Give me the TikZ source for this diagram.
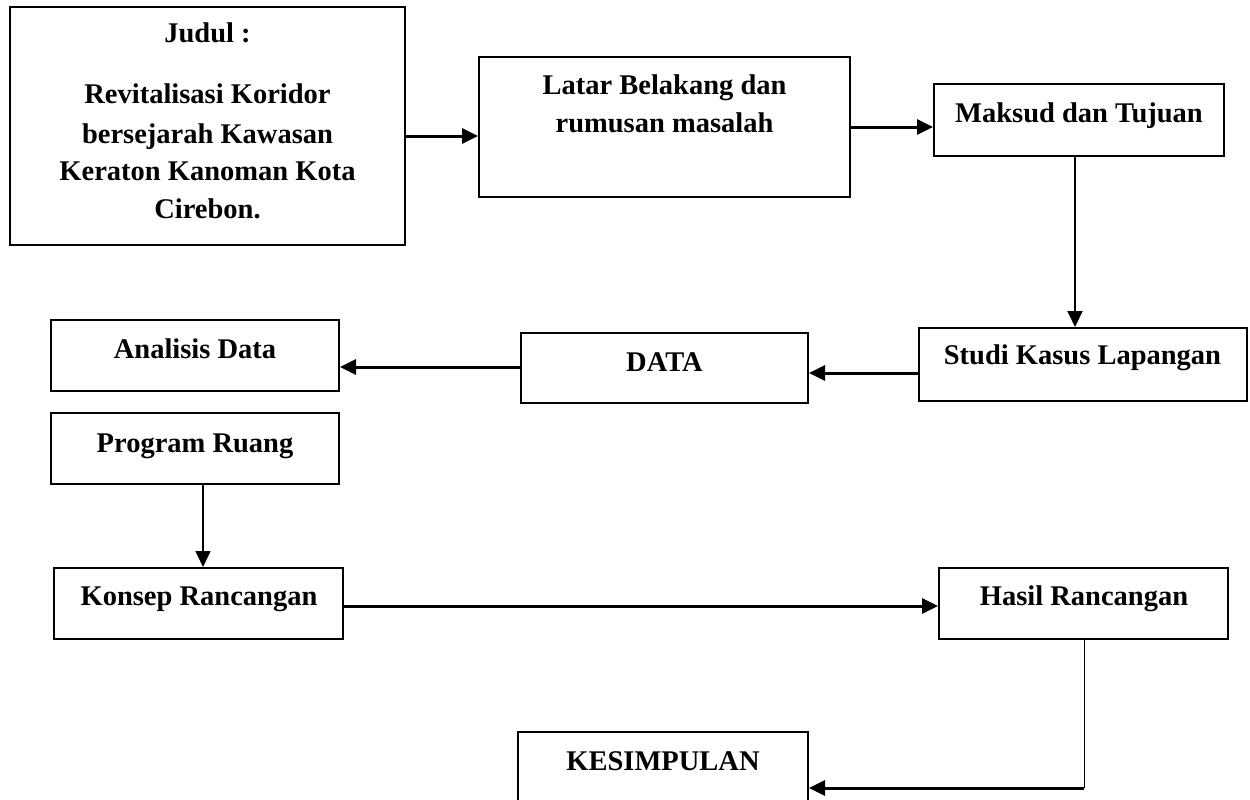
\documentclass[tikz,border=0pt]{standalone}
\usepackage{fontspec}
\setmainfont{Liberation Serif}
\usetikzlibrary{arrows.meta}
\begin{document}
\begin{tikzpicture}[x=1pt,y=-1pt,
  box/.style={draw=black,line width=2pt,inner sep=0pt},
  lbl/.style={anchor=base,inner sep=0pt,font=\fontsize{28.5}{38}\selectfont\bfseries},
  tip/.style={-{Triangle[length=16pt,width=15pt]}},
  arr/.style={line width=3pt,tip},
  varr/.style={line width=2pt,tip}]
\useasboundingbox[fill=white] (0,0) rectangle (1250,800);
% boxes
\node[box,minimum width=395pt,minimum height=238pt] (judul) at (207.5,126) {};
\node[box,minimum width=371pt,minimum height=140pt] (latar) at (664.5,127) {};
\node[box,minimum width=290pt,minimum height=72pt] (maksud) at (1079,120) {};
\node[box,minimum width=328pt,minimum height=73pt] (studi) at (1083,364.5) {};
\node[box,minimum width=287pt,minimum height=70pt] (data) at (664.5,368) {};
\node[box,minimum width=288pt,minimum height=71pt] (analisis) at (195,355.5) {};
\node[box,minimum width=288pt,minimum height=71pt] (program) at (195,448.5) {};
\node[box,minimum width=289pt,minimum height=71pt] (konsep) at (198.5,603.5) {};
\node[box,minimum width=289pt,minimum height=71pt] (hasil) at (1083.5,603.5) {};
\node[box,minimum width=290pt,minimum height=71pt] (kesim) at (663,767.5) {};
% texts
\node[lbl] (tj1) at (207.5,43) {Judul :};
\node[lbl] (tj2) at (207.5,103) {Revitalisasi Koridor};
\node[lbl] (tj3) at (207.5,143) {bersejarah Kawasan};
\node[lbl] (tj4) at (207.5,180) {Keraton Kanoman Kota};
\node[lbl] (tj5) at (207.5,218) {Cirebon.};
\node[lbl] (tl1) at (664.5,95) {Latar Belakang dan};
\node[lbl] (tl2) at (664.5,132) {rumusan masalah};
\node[lbl] (tm) at (1079,122) {Maksud dan Tujuan};
\node[lbl] (ts) at (1082.5,364) {Studi Kasus Lapangan};
\node[lbl] (td) at (664.5,371) {DATA};
\node[lbl] (ta) at (195,358) {Analisis Data};
\node[lbl] (tp) at (195,452) {Program Ruang};
\node[lbl] (tk) at (199,605) {Konsep Rancangan};
\node[lbl] (th) at (1084,605) {Hasil Rancangan};
\node[lbl] (tz) at (663,770) {KESIMPULAN};
% connectors
\draw[arr] ([yshift=-10pt]judul.east) -- ([yshift=-9pt]latar.west);
\draw[arr] (latar.east) -- ([yshift=-7pt]maksud.west);
\draw[varr] ([xshift=-4pt]maksud.south) -- ([xshift=-8pt]studi.north);
\draw[arr] ([yshift=-8.5pt]studi.west) -- ([yshift=-5pt]data.east);
\draw[arr] ([yshift=1pt]data.west) -- ([yshift=-11.5pt]analisis.east);
\draw[line width=1.6pt,tip] ([xshift=8pt]program.south) -- ([xshift=4.5pt]konsep.north);
\draw[arr] ([yshift=-2.5pt]konsep.east) -- ([yshift=-2.5pt]hasil.west);
\coordinate (corner) at (1084,788);
\draw[line width=1pt] ([xshift=0.5pt]hasil.south) -- (corner);
\draw[arr] ([xshift=-0.5pt]corner) -- ([yshift=-20.5pt]kesim.east);
\end{tikzpicture}
\end{document}
